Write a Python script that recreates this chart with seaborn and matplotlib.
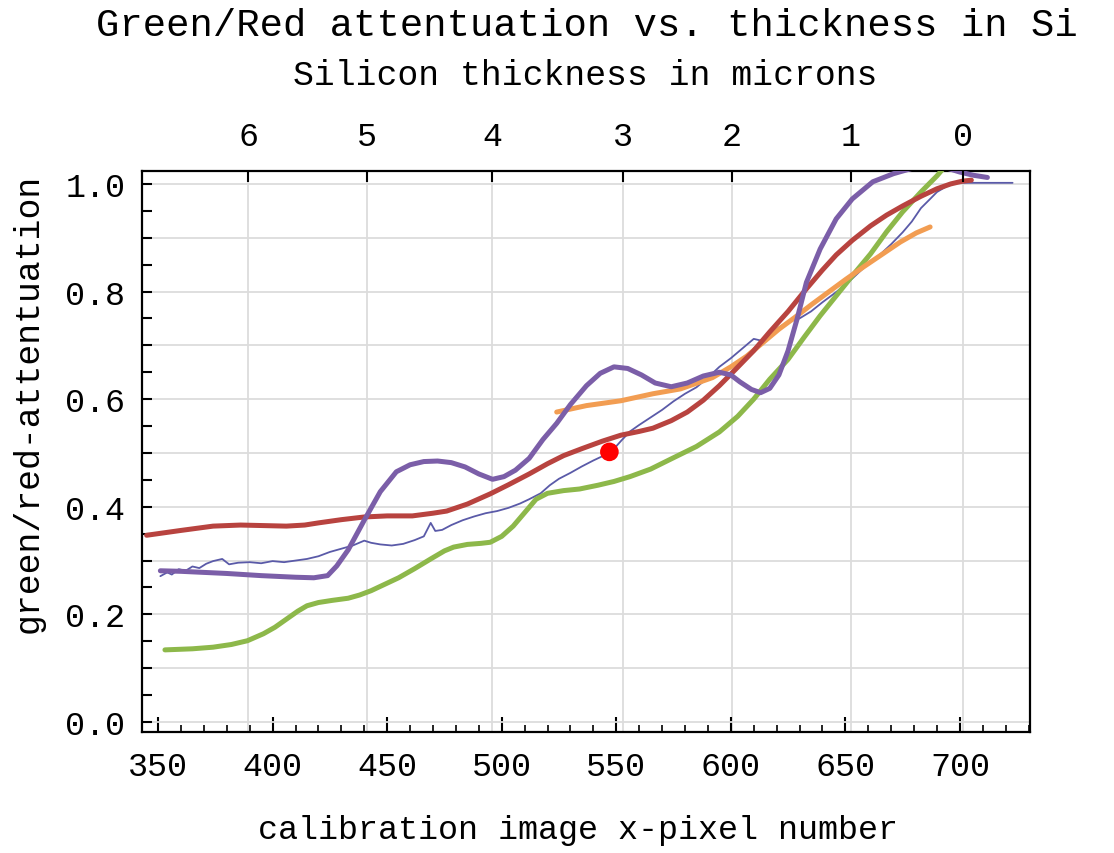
import numpy as np
import pandas as pd
import matplotlib
matplotlib.use("Agg")
import matplotlib.pyplot as plt
import seaborn as sns
from matplotlib.ticker import MultipleLocator

# ---------------- data ----------------
blue_x = [351, 354, 356, 359, 362, 365, 368, 371, 374, 378, 381, 385, 390, 395, 400, 405, 410, 415,
          420, 425, 430, 435, 440, 443, 447, 452, 457, 462, 466, 469, 471, 474, 478, 483, 488, 493,
          498, 503, 508, 512, 517, 521, 525, 530, 535, 540, 544, 548, 552, 556, 560, 565, 570, 575,
          580, 585, 590, 595, 600, 605, 610, 614, 618, 622, 626, 630, 635, 640, 646, 652, 657, 661,
          666, 670, 675, 679, 683, 687, 690, 694, 697, 710, 723]
blue_y = [0.271, 0.278, 0.274, 0.284, 0.281, 0.289, 0.286, 0.294, 0.299, 0.303, 0.293, 0.296, 0.297,
          0.295, 0.299, 0.297, 0.300, 0.303, 0.308, 0.316, 0.322, 0.328, 0.337, 0.333, 0.330, 0.328,
          0.331, 0.338, 0.345, 0.370, 0.355, 0.357, 0.366, 0.375, 0.382, 0.388, 0.392, 0.398, 0.406,
          0.414, 0.425, 0.440, 0.452, 0.463, 0.475, 0.486, 0.494, 0.503, 0.522, 0.540, 0.552, 0.566,
          0.580, 0.596, 0.610, 0.622, 0.640, 0.660, 0.676, 0.694, 0.712, 0.708, 0.725, 0.736, 0.745,
          0.750, 0.763, 0.780, 0.799, 0.820, 0.840, 0.855, 0.872, 0.888, 0.910, 0.930, 0.955, 0.972,
          0.985, 0.995, 1.002, 1.002, 1.002]

red_x = [345, 350, 360, 374, 386, 396, 406, 414, 420, 430, 440, 450, 461, 470, 476, 485, 495, 503,
         512, 520, 527, 535, 544, 552, 560, 566, 574, 581, 588, 595, 602, 610, 617, 625, 633, 640,
         646, 653, 661, 668, 675, 683, 690, 696, 701, 705]
red_y = [0.347, 0.350, 0.356, 0.364, 0.366, 0.365, 0.364, 0.366, 0.370, 0.376, 0.381, 0.383, 0.383,
         0.388, 0.392, 0.405, 0.424, 0.441, 0.461, 0.480, 0.495, 0.508, 0.522, 0.533, 0.540, 0.546,
         0.560, 0.576, 0.598, 0.625, 0.655, 0.690, 0.725, 0.763, 0.805, 0.840, 0.868, 0.895, 0.922,
         0.942, 0.959, 0.977, 0.991, 1.000, 1.005, 1.007]

green_x = [353, 365, 374, 382, 389, 396, 401, 406, 411, 415, 420, 426, 433, 438, 443, 449, 455, 462,
           469, 475, 479, 485, 491, 495, 500, 505, 510, 515, 520, 527, 534, 542, 549, 556, 565, 574,
           585, 595, 603, 610, 617, 625, 632, 639, 646, 653, 661, 668, 675, 683, 690, 695]
green_y = [0.134, 0.136, 0.139, 0.144, 0.151, 0.164, 0.176, 0.191, 0.206, 0.216, 0.222, 0.226, 0.230,
           0.236, 0.244, 0.256, 0.268, 0.285, 0.303, 0.318, 0.325, 0.330, 0.332, 0.334, 0.345, 0.364,
           0.389, 0.414, 0.425, 0.430, 0.433, 0.440, 0.447, 0.456, 0.470, 0.489, 0.512, 0.539, 0.568,
           0.600, 0.637, 0.674, 0.715, 0.755, 0.792, 0.829, 0.870, 0.911, 0.948, 0.985, 1.015, 1.040]

orange_x = [524, 537, 552, 566, 578, 592, 600, 607, 614, 621, 628, 635, 642, 650, 658, 666, 674, 681, 687]
orange_y = [0.576, 0.588, 0.597, 0.610, 0.619, 0.640, 0.660, 0.680, 0.705, 0.730, 0.752, 0.775, 0.797,
            0.822, 0.846, 0.869, 0.892, 0.909, 0.920]

purple_x = [351, 360, 370, 380, 395, 410, 418, 424, 428, 433, 440, 447, 454, 460, 466, 472, 478, 484,
            490, 496, 501, 506, 512, 518, 524, 530, 537, 543, 549, 555, 561, 567, 574, 581, 588, 595,
            600, 604, 609, 613, 617, 621, 625, 629, 633, 639, 646, 653, 662, 671, 680, 690, 700, 706, 712]
purple_y = [0.281, 0.280, 0.278, 0.276, 0.272, 0.269, 0.268, 0.272, 0.290, 0.320, 0.375, 0.428, 0.465,
            0.478, 0.484, 0.485, 0.482, 0.474, 0.461, 0.451, 0.456, 0.468, 0.490, 0.525, 0.555, 0.590,
            0.625, 0.648, 0.660, 0.657, 0.645, 0.630, 0.623, 0.630, 0.643, 0.650, 0.645, 0.632, 0.618,
            0.612, 0.620, 0.645, 0.690, 0.750, 0.817, 0.879, 0.935, 0.972, 1.004, 1.019, 1.030, 1.035,
            1.022, 1.016, 1.012]

dot_x = [547]
dot_y = [0.502]

x_ticks = [350, 400, 450, 500, 550, 600, 650, 700]
thick_pos = [389.3, 441.2, 495.8, 552.9, 600.5, 652.4, 701.3]
thick_labels = ["6", "5", "4", "3", "2", "1", "0"]

# ---------------- style ----------------
sns.set_style("white")
plt.rcParams["font.family"] = ["Liberation Mono", "DejaVu Sans Mono"]
plt.rcParams["text.color"] = "black"
plt.rcParams["xtick.color"] = "black"
plt.rcParams["ytick.color"] = "black"
plt.rcParams["axes.labelcolor"] = "black"

fig = plt.figure(figsize=(11.14, 8.54), dpi=100)
ax = fig.add_axes([0.1275, 0.1417, 0.7971, 0.6569])

grid_c = "#dcdcdc"
for p in thick_pos:
    ax.axvline(p, color=grid_c, lw=1.3, zorder=0)

def draw(xs, ys, color, lw):
    df = pd.DataFrame({"x": xs, "y": ys})
    sns.lineplot(data=df, x="x", y="y", color=color, lw=lw, sort=False,
                 estimator=None, ax=ax, zorder=3)

draw(blue_x, blue_y, "#5a5aa8", 1.3)
draw(green_x, green_y, "#8db84a", 3.6)
draw(orange_x, orange_y, "#f29d52", 3.6)
draw(red_x, red_y, "#b8433f", 3.6)
draw(purple_x, purple_y, "#7b5ea8", 3.6)
sns.scatterplot(x=dot_x, y=dot_y, color="#ff0000", s=180, edgecolor="none", ax=ax, zorder=5)

ax.set_xlim(343, 730.6)
ax.set_ylim(-0.0186, 1.024)

ax.set_xticks(x_ticks)
ax.xaxis.set_minor_locator(MultipleLocator(10))
ax.set_yticks(np.round(np.arange(0, 1.01, 0.1), 2))
ax.set_yticklabels([f"{v:.1f}" if i % 2 == 0 else "" for i, v in enumerate(np.arange(0, 1.01, 0.1))])
ax.yaxis.set_minor_locator(MultipleLocator(0.05))
ax.yaxis.grid(True, which="major", color=grid_c, lw=1.3, zorder=0)
ax.xaxis.grid(False)
ax.set_axisbelow(True)

ax.tick_params(axis="x", which="major", direction="in", length=11, width=1.5, labelsize=24,
               pad=14, top=False, bottom=True, colors="black")
ax.tick_params(axis="x", which="minor", direction="in", length=5, width=1.2, top=False, bottom=True,
               colors="black")
ax.tick_params(axis="y", which="both", direction="in", length=7, width=1.5, labelsize=24,
               pad=12, left=True, right=False, colors="black")
for s in ax.spines.values():
    s.set_color("black")
    s.set_linewidth(1.6)
ax.set_xlabel("")
ax.set_ylabel("")

ax2 = ax.twiny()
ax2.set_xlim(ax.get_xlim())
ax2.set_xticks(thick_pos)
ax2.set_xticklabels(thick_labels)
ax2.tick_params(axis="x", direction="in", length=8, width=1.5, labelsize=24, pad=14, colors="black")
for s in ax2.spines.values():
    s.set_visible(False)

fig.text(0.527, 0.970, "Green/Red attentuation vs. thickness in Si", ha="center", va="center",
         fontsize=28, color="black")
fig.text(0.525, 0.912, "Silicon thickness in microns", ha="center", va="center", fontsize=25,
         color="black")
fig.text(0.519, 0.028, "calibration image x-pixel number", ha="center", va="center", fontsize=24,
         color="black")
fig.text(0.025, 0.528, "green/red-attentuation", ha="center", va="center", rotation=90, fontsize=25,
         color="black")

fig.savefig("out.png", dpi=100)
